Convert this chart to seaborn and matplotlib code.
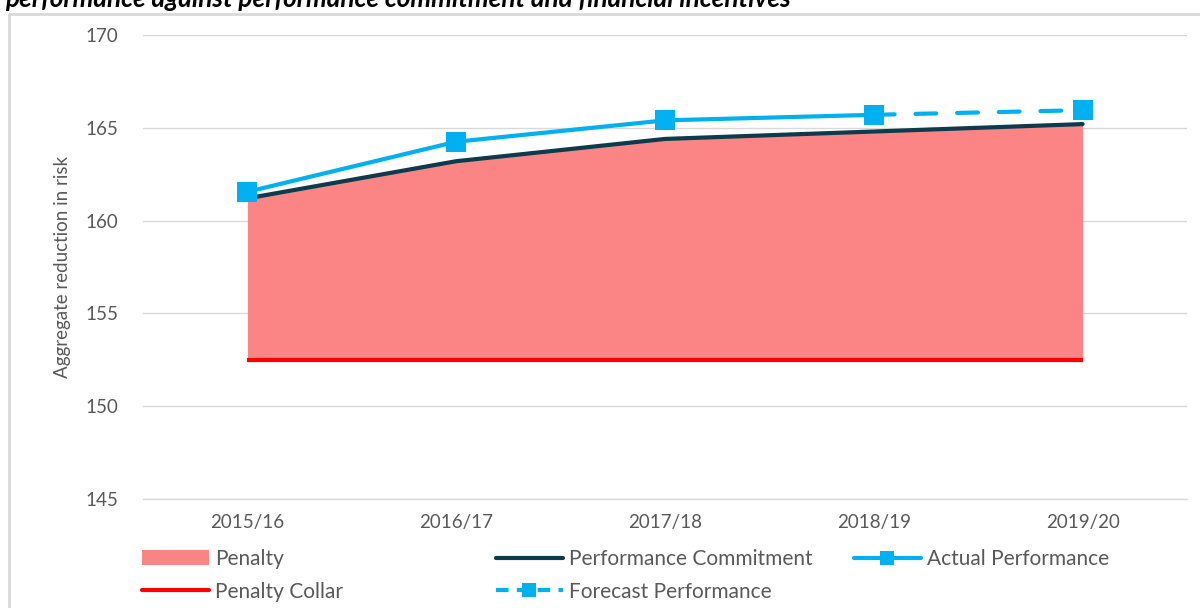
import numpy as np
import pandas as pd
import matplotlib
matplotlib.use("Agg")
import matplotlib.pyplot as plt
import seaborn as sns
from matplotlib.lines import Line2D
from matplotlib.patches import Patch

# ---- data ----
years = ["2015/16", "2016/17", "2017/18", "2018/19", "2019/20"]
commitment = [161.2, 163.2, 164.4, 164.8, 165.2]
actual = [161.55, 164.25, 165.4, 165.7, np.nan]
forecast = [np.nan, np.nan, np.nan, 165.7, 165.95]
collar = [152.5, 152.5, 152.5, 152.5, 152.5]
title_text = "performance against performance commitment and financial incentives"
y_label = "Aggregate reduction in risk"

sns.set_theme(style="white")
plt.rcParams["font.family"] = ["Lato", "DejaVu Sans"]

c_pen = "#FA8584"
c_com = "#0B3B4C"
c_act = "#00B0F0"
c_col = "#FF0000"
c_grid = "#D9D9D9"
c_txt = "#595959"

df = pd.DataFrame({"x": np.arange(len(years)), "year": years,
                   "commitment": commitment, "actual": actual,
                   "forecast": forecast, "collar": collar})

fig = plt.figure(figsize=(12, 6.08), dpi=100)
ax = fig.add_axes([143/1200, 1-499/608, (1187-143)/1200, (499-35)/608])

ax.fill_between(df["x"], df["collar"], df["commitment"], color=c_pen, lw=0, zorder=1)
sns.lineplot(data=df, x="x", y="collar", ax=ax, color=c_col, lw=3, zorder=2,
             solid_capstyle="butt")
sns.lineplot(data=df, x="x", y="commitment", ax=ax, color=c_com, lw=3, zorder=3)
sns.lineplot(data=df.dropna(subset=["actual"]), x="x", y="actual", ax=ax, color=c_act,
             lw=3, marker="s", markersize=15, markeredgewidth=0, zorder=4)
sns.lineplot(data=df.dropna(subset=["forecast"]), x="x", y="forecast", ax=ax,
             color=c_act, lw=3, marker="s", markersize=15, markeredgewidth=0, zorder=4)
ax.lines[-1].set_dashes([5, 5])
ax.lines[-1].set_dash_capstyle("round")

ax.set_xlim(-0.5, 4.5)
ax.set_ylim(145, 170)
ax.set_yticks([145, 150, 155, 160, 165, 170])
ax.set_xticks(range(len(years)))
ax.set_xticklabels(years)
ax.set_xticks(np.arange(-0.5, 5, 1), minor=True)
ax.tick_params(axis="x", which="major", length=0, pad=11, labelsize=13.5, labelcolor=c_txt)
ax.tick_params(axis="x", which="minor", length=6, width=1, color=c_grid, direction="out")
ax.tick_params(axis="y", length=0, pad=18, labelsize=13.5, labelcolor=c_txt)
ax.grid(axis="y", color=c_grid, lw=1)
ax.set_axisbelow(True)
for s in ["top", "right", "left"]:
    ax.spines[s].set_visible(False)
ax.spines["bottom"].set_color(c_grid)
ax.spines["bottom"].set_linewidth(1)
ax.set_xlabel("")
ax.set_ylabel(y_label, fontsize=13.5, color=c_txt)
ax.yaxis.set_label_coords(-72/1044, 0.5)

# legends
lkw = dict(frameon=False, fontsize=15, labelcolor=c_txt, handlelength=3.2,
           handletextpad=0.3, labelspacing=0.6, loc="upper left", borderaxespad=0,
           borderpad=0)
h_pen = Patch(facecolor=c_pen, edgecolor="none")
h_col = Line2D([], [], color=c_col, lw=3)
h_com = Line2D([], [], color=c_com, lw=3)
h_act = Line2D([], [], color=c_act, lw=3, marker="s", markersize=10, markeredgewidth=0)
h_for = Line2D([], [], color=c_act, lw=3, marker="s", markersize=10, markeredgewidth=0,
               dashes=[3, 2])
fig.legend([h_pen, h_col], ["Penalty", "Penalty Collar"],
           bbox_to_anchor=(142/1200, 1-549/608), **lkw)
fig.legend([h_com, h_for], ["Performance Commitment", "Forecast Performance"],
           bbox_to_anchor=(496/1200, 1-549/608), **lkw)
fig.legend([h_act], ["Actual Performance"],
           bbox_to_anchor=(854/1200, 1-549/608), **lkw)

# frame and cut title
fig.add_artist(Line2D([8.5/1200, 1], [1-14/608, 1-14/608], color=c_grid, lw=2,
                      transform=fig.transFigure))
fig.add_artist(Line2D([8.5/1200, 8.5/1200], [0, 1-14/608], color=c_grid, lw=2,
                      transform=fig.transFigure))
fig.text(5/1200, 1-7/608, title_text, fontsize=18.8, fontweight="bold", fontstyle="italic",
         va="baseline", ha="left", color="black")

fig.savefig("out.png", dpi=100)
